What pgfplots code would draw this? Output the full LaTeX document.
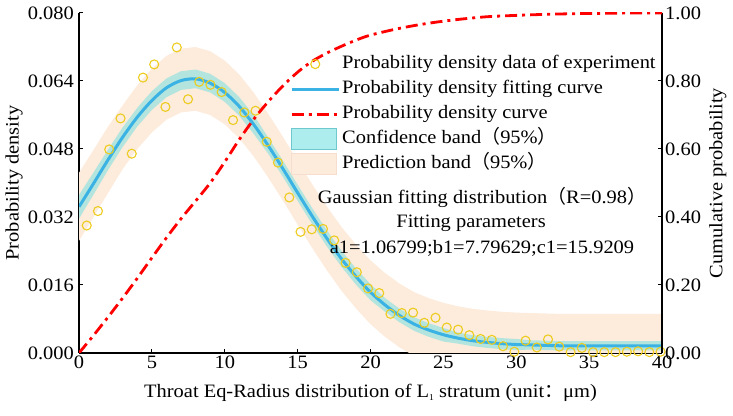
\documentclass[border=0pt]{standalone}
\usepackage{fontspec}
\setmainfont{Liberation Serif}[FakeStretch=1.08]
\newfontfamily\cjk{Noto Sans CJK SC}
\usepackage{pgfplots}
\pgfplotsset{compat=1.18}
\usepackage{pgfplotstable}

\definecolor{ptyellow}{RGB}{236,204,30}
\definecolor{fitblue}{RGB}{58,178,228}
\definecolor{confband}{RGB}{120,225,225}
\definecolor{confedge}{RGB}{110,200,205}
\definecolor{predband}{RGB}{253,235,220}
\definecolor{prededge}{RGB}{245,222,205}
\definecolor{cumred}{RGB}{255,0,0}

\newcommand{\txt}{\fontsize{19}{22}\selectfont}

\pgfplotsset{
  widelegend/.style={legend image code/.code={\draw[mark repeat=2, mark phase=2, ##1]
    plot coordinates {(0bp,0bp) (23.5bp,0bp) (47bp,0bp)};}},
  bandlegend/.style={legend image code/.code={\draw[##1] (0bp,-10.5bp) rectangle (45bp,10.5bp);}},
}

% experimental probability density
\pgfplotstableread{
x y
0.53 0.0300
1.30 0.0334
2.07 0.0479
2.85 0.0552
3.62 0.0469
4.39 0.0648
5.16 0.0679
5.93 0.0579
6.71 0.0719
7.48 0.0597
8.25 0.0638
9.02 0.0631
9.79 0.0614
10.57 0.0548
11.34 0.0566
12.11 0.0570
12.88 0.0497
13.65 0.0448
14.43 0.0366
15.20 0.0285
15.97 0.0291
16.74 0.0292
17.51 0.0265
18.29 0.0212
19.06 0.0190
19.83 0.0152
20.60 0.0141
21.37 0.0092
22.15 0.0094
22.92 0.0095
23.69 0.0071
24.46 0.0083
25.23 0.0060
26.01 0.0055
26.78 0.0042
27.55 0.0033
28.32 0.0031
29.09 0.0016
29.87 0.0003
30.64 0.0029
31.41 0.0013
32.18 0.0032
32.95 0.0015
33.73 0.0002
34.50 0.0012
35.27 0.0002
36.04 0.0002
36.81 0.0002
37.59 0.0003
38.36 0.0004
39.13 0.0002
39.90 0.0003
}\expdata

% Gaussian fitting curve
\pgfplotstableread{
x y
0 0.0344
1 0.0399
2 0.0455
3 0.0508
4 0.0555
5 0.0594
6 0.0624
7 0.0641
8 0.0645
9 0.0635
10 0.0613
11 0.0580
12 0.0537
13 0.0487
14 0.0433
15 0.0377
16 0.0322
17 0.0270
18 0.0222
19 0.0180
20 0.0143
21 0.0113
22 0.0088
23 0.0068
24 0.0054
25 0.0043
26 0.0035
27 0.0029
28 0.0025
29 0.0022
30 0.0020
31 0.0019
32 0.0018
33 0.0017
34 0.0017
35 0.0017
36 0.0017
37 0.0017
38 0.0017
39 0.0017
40 0.0017
}\fitdata

% cumulative probability
\pgfplotstableread{
x y
0 0
1 0.052
2 0.106
3 0.162
4 0.220
5 0.280
6 0.339
7 0.395
8 0.447
9 0.500
10 0.562
11 0.628
12 0.688
13 0.740
14 0.786
15 0.826
16 0.858
17 0.882
18 0.902
19 0.920
20 0.935
22 0.955
24 0.970
26 0.981
28 0.989
30 0.993
32 0.996
34 0.998
36 0.999
38 1.000
40 1.000
}\cumdata

\begin{document}
\begin{tikzpicture}
\path[use as bounding box] (0,0) rectangle (733bp,416bp);

\begin{axis}[
  at={(79bp,63bp)}, anchor=south west,
  scale only axis, width=583bp, height=340bp,
  xmin=0, xmax=40, ymin=0, ymax=0.08,
  xtick={0,5,...,40},
  ytick={0,0.016,0.032,0.048,0.064,0.08},
  axis x line=bottom, axis y line=left,
  axis line style={-, line width=1.2bp, black},
  tick align=inside, major tick length=4bp,
  tick style={line width=1bp, black},
  scaled y ticks=false,
  /pgf/number format/assume math mode=true,
  tick label style={font=\txt},
  yticklabel style={/pgf/number format/.cd, fixed, fixed zerofill, precision=3,
    /tikz/.cd, inner sep=0pt, xshift=-5bp},
  xticklabel style={inner sep=0pt, yshift=-3bp},
  xlabel={Throat Eq-Radius distribution of L\raisebox{-0.15em}{\fontsize{9}{9}\selectfont 1} stratum (unit{\cjk ：}μm)},
  xlabel style={at={(axis description cs:0.5,-0.118)}, anchor=center, font=\txt},
  ylabel={Probability density},
  ylabel style={at={(axis description cs:-0.1115,0.5)}, anchor=center, font=\txt},
]
% 95% prediction band
\addplot[fill=predband, draw=none] coordinates {
 (0,0.0424) (1,0.0478) (2,0.0533) (3,0.0583) (4,0.0630) (5,0.0669) (6,0.0699)
 (7,0.0716) (8,0.0720) (9,0.0710) (10,0.0688) (11,0.0655) (12,0.0612) (13,0.0562)
 (14,0.0508) (15,0.0452) (16,0.0397) (17,0.0345) (18,0.0297) (19,0.0255) (20,0.0218)
 (21,0.0188) (22,0.0163) (23,0.0143) (24,0.0129) (25,0.0118) (26,0.0110) (27,0.0104)
 (28,0.0100) (29,0.0097) (30,0.0095) (31,0.0094) (32,0.0093) (33,0.0092) (40,0.0092)
 (40,-0.0058) (33,-0.0058) (32,-0.0057) (31,-0.0056) (30,-0.0055) (29,-0.0053)
 (28,-0.0050) (27,-0.0046) (26,-0.0040) (25,-0.0032) (24,-0.0021) (23,-0.0007)
 (22,0.0013) (21,0.0038) (20,0.0068) (19,0.0105) (18,0.0147) (17,0.0195) (16,0.0247)
 (15,0.0302) (14,0.0358) (13,0.0412) (12,0.0462) (11,0.0505) (10,0.0538) (9,0.0560)
 (8,0.0570) (7,0.0566) (6,0.0549) (5,0.0519) (4,0.0480) (3,0.0433) (2,0.0377)
 (1,0.0320) (0,0.0264)} -- cycle;
% experimental points
\addplot[only marks, mark=o, mark size=4.5bp,
  mark options={draw=ptyellow, line width=1.1bp}] table {\expdata};
% 95% confidence band
\addplot[fill=confband, fill opacity=0.55, draw=none] coordinates {
 (0,0.0372) (1,0.0425) (2,0.0479) (3,0.0531) (4,0.0577) (5,0.0616) (6,0.0646)
 (7,0.0663) (8,0.0667) (9,0.0657) (10,0.0635) (11,0.0602) (12,0.0559) (13,0.0506)
 (14,0.0452) (15,0.0396) (16,0.0341) (17,0.0289) (18,0.0241) (19,0.0199) (20,0.0162)
 (21,0.0129) (22,0.0104) (23,0.0084) (24,0.0070) (25,0.0059) (26,0.0048) (27,0.0042)
 (28,0.0038) (29,0.0035) (30,0.0033) (31,0.0030) (32,0.0029) (33,0.0028) (40,0.0028)
 (40,0.0006) (33,0.0006) (32,0.0007) (31,0.0008) (30,0.0007) (29,0.0009) (28,0.0012)
 (27,0.0016) (26,0.0022) (25,0.0027) (24,0.0038) (23,0.0052) (22,0.0072) (21,0.0097)
 (20,0.0124) (19,0.0161) (18,0.0203) (17,0.0251) (16,0.0303) (15,0.0358) (14,0.0414)
 (13,0.0468) (12,0.0515) (11,0.0558) (10,0.0591) (9,0.0613) (8,0.0623) (7,0.0619)
 (6,0.0602) (5,0.0572) (4,0.0533) (3,0.0485) (2,0.0431) (1,0.0373) (0,0.0316)} -- cycle;
% fitting curve
\addplot[fitblue, line width=3bp, smooth] table {\fitdata};

\node[font=\txt] at (axis cs:27.65,0.0367) {Gaussian fitting distribution{\cjk （}R=0.98{\cjk ）}};
\node[font=\txt] at (axis cs:26.9,0.0306) {Fitting parameters};
\node[font=\txt] at (axis cs:27.65,0.0247) {a1=1.06799;b1=7.79629;c1=15.9209};
\end{axis}

\begin{axis}[
  at={(79bp,63bp)}, anchor=south west,
  scale only axis, width=583bp, height=340bp,
  xmin=0, xmax=40, ymin=0, ymax=1,
  axis x line=none, axis y line*=right,
  axis line style={-, line width=1.2bp, black},
  ytick={0,0.2,0.4,0.6,0.8,1},
  tick align=inside, major tick length=4bp,
  tick style={line width=1bp, black},
  /pgf/number format/assume math mode=true,
  tick label style={font=\txt},
  yticklabel style={/pgf/number format/.cd, fixed, fixed zerofill, precision=2,
    /tikz/.cd, inner sep=0pt, xshift=3bp},
  ylabel={Cumulative probability},
  ylabel style={at={(axis description cs:1.096,0.5)}, anchor=center, rotate=0, font=\txt},
  widelegend,
  legend style={at={(axis description cs:0.362,0.887)}, anchor=north west,
    draw=none, fill=none, font=\txt, inner sep=0pt, row sep=0pt,
    nodes={inner xsep=2bp, inner ysep=3bp, text height=14bp, text depth=5bp},
    cells={anchor=west}},
]
\addlegendimage{only marks, mark=o, mark size=4.5bp, mark options={draw=ptyellow, line width=1.1bp}}
\addlegendentry{Probability density data of experiment}
\addlegendimage{fitblue, line width=3bp}
\addlegendentry{Probability density fitting curve}
\addplot[cumred, line width=2.8bp, smooth,
  dash pattern=on 12bp off 5bp on 3bp off 5bp] table {\cumdata};
\addlegendentry{Probability density curve}
\addlegendimage{fill=confband, fill opacity=0.6, draw=confedge, line width=1bp, bandlegend}
\addlegendentry{Confidence band{\cjk （}95\%{\cjk ）}}
\addlegendimage{fill=predband, draw=prededge, line width=1bp, bandlegend}
\addlegendentry{Prediction band{\cjk （}95\%{\cjk ）}}
\end{axis}
\end{tikzpicture}
\end{document}
